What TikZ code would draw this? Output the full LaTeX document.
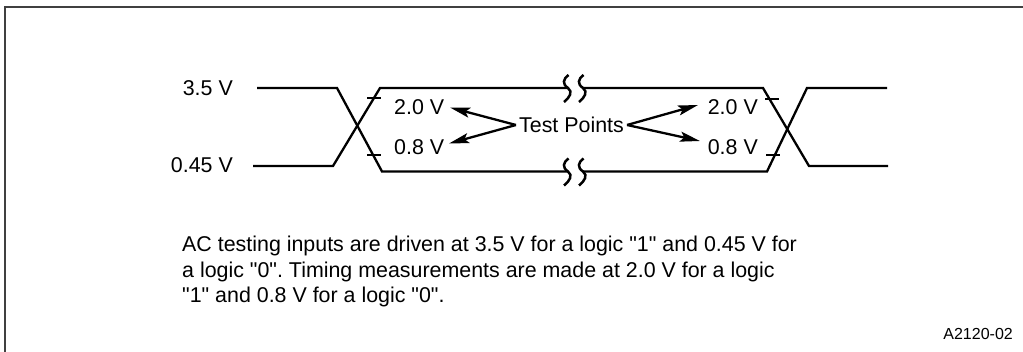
\documentclass[tikz,border=0pt]{standalone}
\usepackage{fontspec}
\setmainfont{Liberation Sans}[Ligatures=TeXOff]
\usetikzlibrary{arrows.meta}
\begin{document}
\frenchspacing
\begin{tikzpicture}[x=1pt,y=-1pt,
  sig/.style={line width=2.3pt, line join=miter},
  lbl/.style={font=\fontsize{21.4}{25.5}\selectfont, inner sep=0pt},
  ticky/.style={line width=1.3pt},
  brk/.style={line width=2.5pt},
  tparrow/.style={line width=2.3pt, -{Stealth[length=20pt,width=10pt,inset=4pt]}},
  brkmark/.pic={\draw[brk] (0.5,-13) .. controls (-5,-9) and (-6,-4) .. (0,0) .. controls (5,4) and (2,9) .. (-4,14);}
]
\useasboundingbox (0,0) rectangle (1023,352);
% frame
\draw[line width=2pt, black!75] (1023,7) -- (5,7) -- (5,352);
% break coordinates
\coordinate (tb1) at (568,88);
\coordinate (tb2) at (583,88);
\coordinate (bb1) at (568,171.5);
\coordinate (bb2) at (583,171.5);
% signal A: high -> low -> high
\draw[sig] (257,88) -- (337,88) -- (382,171.5) -- (bb1);
\draw[sig] (bb2) -- (767,171.5) -- (807,88) -- (887,88);
% signal B: low -> high -> low
\draw[sig] (253,166) -- (333,166) -- (380,88) -- (tb1);
\draw[sig] (tb2) -- (763,88) -- (809,166) -- (888,166);
% break marks
\pic at (tb1) {brkmark};
\pic at (tb2) {brkmark};
\pic at (bb1) {brkmark};
\pic at (bb2) {brkmark};
% ticks
\draw[ticky] (367,98) -- (381,98);
\draw[ticky] (367,155) -- (381,155);
\draw[ticky] (765,99) -- (779,99);
\draw[ticky] (766,155) -- (780,155);
% level labels
\node[lbl, anchor=east] (v35) at (233,88) {3.5 V};
\node[lbl, anchor=east] (v045) at (233,165) {0.45 V};
\node[lbl, anchor=west] (l20) at (394,107) {2.0 V};
\node[lbl, anchor=west] (l08) at (394,147) {0.8 V};
\node[lbl, anchor=east] (r20) at (758,107) {2.0 V};
\node[lbl, anchor=east] (r08) at (758,147) {0.8 V};
\node[lbl, inner sep=3pt] (tp) at (571.5,125) {Test Points};
% arrow tips
\coordinate (la) at (450,107.5);
\coordinate (lb) at (449,143.5);
\coordinate (ra) at (698,105);
\coordinate (rb) at (700,141);
\draw[tparrow] (tp.west) -- (la);
\draw[tparrow] (tp.west) -- (lb);
\draw[tparrow] (tp.east) -- (ra);
\draw[tparrow] (tp.east) -- (rb);
% caption
\node[lbl, anchor=base west, align=left] (cap) at (182,303)
  {AC testing inputs are driven at 3.5 V for a logic "1" and 0.45 V for\\
   a logic "0". Timing measurements are made at 2.0 V for a logic\\
   "1" and 0.8 V for a logic "0".};
\node[inner sep=0pt, anchor=east, font=\fontsize{16}{19}\selectfont] (fig) at (1013,334) {A2120-02};
\end{tikzpicture}
\end{document}
